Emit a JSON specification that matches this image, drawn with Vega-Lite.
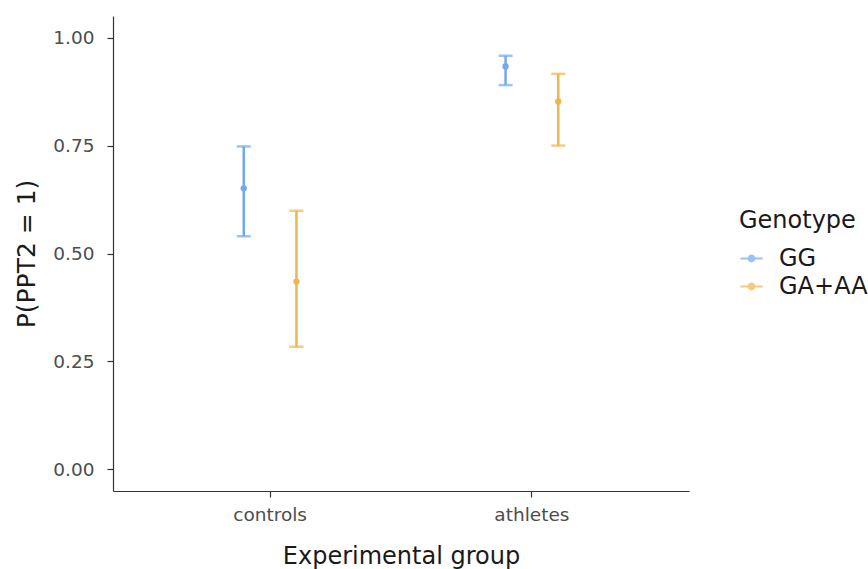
{
  "$schema": "https://vega.github.io/schema/vega-lite/v6.json",
  "autosize": "none",
  "width": 576,
  "height": 475,
  "padding": {"left": 113, "top": 16, "right": 179, "bottom": 78},
  "background": "white",
  "config": {
    "view": {"stroke": null},
    "font": "DejaVu Sans",
    "axis": {
      "grid": false,
      "domainColor": "#333333",
      "domainWidth": 1.2,
      "tickColor": "#333333",
      "tickWidth": 1.2,
      "tickSize": 6,
      "labelColor": "#4d4d4d",
      "labelFontSize": 18.5,
      "labelFont": "DejaVu Sans",
      "titleFont": "DejaVu Sans",
      "titleFontSize": 24,
      "titleFontWeight": "normal",
      "titleColor": "#1a1a1a"
    },
    "legend": {
      "titleFont": "DejaVu Sans",
      "labelFont": "DejaVu Sans"
    }
  },
  "data": {
    "values": [
      {"group": "controls", "genotype": "GG", "p": 0.651, "lo": 0.540, "hi": 0.748},
      {"group": "controls", "genotype": "GA+AA", "p": 0.435, "lo": 0.284, "hi": 0.599},
      {"group": "athletes", "genotype": "GG", "p": 0.933, "lo": 0.890, "hi": 0.958},
      {"group": "athletes", "genotype": "GA+AA", "p": 0.852, "lo": 0.750, "hi": 0.916}
    ]
  },
  "encoding": {
    "x": {
      "field": "group",
      "type": "nominal",
      "sort": ["controls", "athletes"],
      "scale": {"paddingInner": 0.195, "paddingOuter": 0.1975},
      "axis": {"title": "Experimental group", "labelAngle": 0, "labelPadding": 8, "titlePadding": 21}
    },
    "xOffset": {
      "field": "genotype",
      "type": "nominal",
      "sort": ["GG", "GA+AA"],
      "scale": {"paddingOuter": 2}
    },
    "color": {
      "field": "genotype",
      "type": "nominal",
      "sort": ["GG", "GA+AA"],
      "scale": {"domain": ["GG", "GA+AA"], "range": ["#72a8f2", "#f0b54d"]},
      "legend": {
        "title": "Genotype",
        "orient": "none",
        "legendX": 626,
        "legendY": 193,
        "titleFontSize": 24,
        "titleFontWeight": "normal",
        "titleColor": "#1a1a1a",
        "titlePadding": 13,
        "labelFontSize": 24,
        "labelColor": "#1a1a1a",
        "labelOffset": 15,
        "symbolType": "M-1,0L1,0M-0.25,0A0.25,0.25 0 1,1 0.25,0A0.25,0.25 0 1,1 -0.25,0Z",
        "symbolSize": 500,
        "symbolStrokeWidth": 2.2,
        "rowPadding": 3
      }
    }
  },
  "layer": [
    {
      "mark": {"type": "rule", "strokeWidth": 2.5},
      "encoding": {
        "y": {
          "field": "lo",
          "type": "quantitative",
          "scale": {"domain": [-0.05, 1.05], "nice": false, "zero": false},
          "axis": {"title": "P(PPT2 = 1)", "values": [0, 0.25, 0.5, 0.75, 1], "format": ".2f", "labelPadding": 13, "titlePadding": 13, "titleFontSize": 25}
        },
        "y2": {"field": "hi"}
      }
    },
    {
      "mark": {"type": "tick", "thickness": 2.5, "size": 14, "orient": "horizontal"},
      "encoding": {"y": {"field": "lo", "type": "quantitative"}}
    },
    {
      "mark": {"type": "tick", "thickness": 2.5, "size": 14, "orient": "horizontal"},
      "encoding": {"y": {"field": "hi", "type": "quantitative"}}
    },
    {
      "mark": {"type": "point", "filled": true, "size": 40, "opacity": 1},
      "encoding": {"y": {"field": "p", "type": "quantitative"}}
    }
  ]
}
